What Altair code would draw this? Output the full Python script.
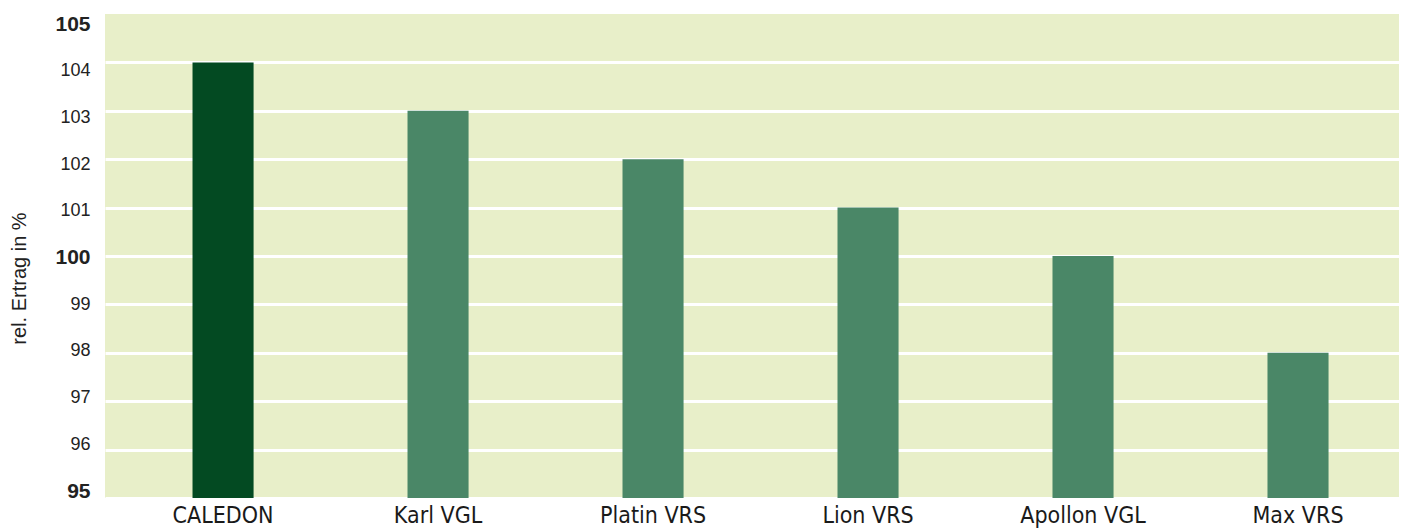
import altair as alt
import pandas as pd

varieties = ["CALEDON", "Karl VGL", "Platin VRS", "Lion VRS", "Apollon VGL", "Max VRS"]
values = [104, 103, 102, 101, 100, 98]
groups = ["highlight", "other", "other", "other", "other", "other"]
y_ticks = [95, 96, 97, 98, 99, 100, 101, 102, 103, 104, 105]

df = pd.DataFrame({"variety": varieties, "value": values, "group": groups})

chart = alt.Chart(df).mark_bar(clip=True).encode(
    x=alt.X(
        "variety:N",
        sort=varieties,
        title=None,
        scale=alt.Scale(paddingInner=0.716, paddingOuter=0.3674, align=0.554),
        axis=alt.Axis(
            labelAngle=0,
            labelFont="Liberation Sans Narrow, DejaVu Sans Condensed, Liberation Sans",
            labelFontSize=23,
            labelColor="#1a1a1a",
            labelPadding=6,
            domain=False,
            ticks=False,
        ),
    ),
    y=alt.Y(
        "value:Q",
        title="rel. Ertrag in %",
        scale=alt.Scale(domain=[95, 105], nice=False, zero=False),
        axis=alt.Axis(
            values=y_ticks,
            domain=False,
            ticks=False,
            grid=True,
            gridColor="white",
            gridWidth=3,
            gridOpacity={"expr": "datum.value == 105 ? 0 : 1"},
            labelFont="Liberation Sans",
            labelFontSize={"expr": "(datum.value == 105 || datum.value == 100 || datum.value == 95) ? 21 : 18"},
            labelFontWeight={"expr": "(datum.value == 105 || datum.value == 100 || datum.value == 95) ? 'bold' : 'normal'"},
            labelOffset={"expr": "1.5 + 1.7 * (datum.value - 100)"},
            labelColor="#222222",
            labelPadding=15,
            titleFont="Liberation Sans",
            titleFontSize=20,
            titleFontWeight="normal",
            titleColor="#222222",
            titleX=-80,
            titleY=264,
            titleAlign="center",
            titleBaseline="alphabetic",
            titleAngle=270,
        ),
    ),
    color=alt.Color(
        "group:N",
        scale=alt.Scale(domain=["highlight", "other"], range=["#034A22", "#4A8767"]),
        legend=None,
    ),
).properties(
    width=1294,
    height=484,
    autosize=alt.AutoSizeParams(type="none"),
    padding={"left": 97, "top": 6, "right": 0, "bottom": 33},
).configure_view(
    fill="#E8EFC9",
    stroke=None,
)

chart.save("out.html", embed_options={"renderer": "svg", "actions": False})
